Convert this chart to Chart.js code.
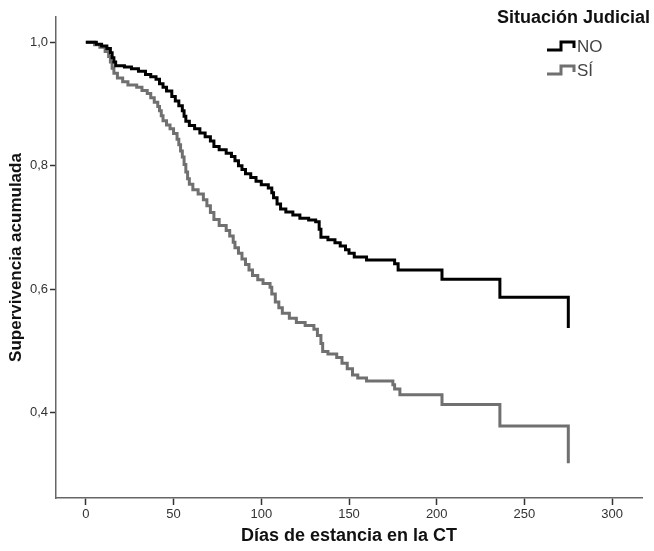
<!DOCTYPE html>
<html>
<head>
<meta charset="utf-8">
<script src="https://cdn.jsdelivr.net/npm/chart.js@4/dist/chart.umd.min.js"></script>
<style>
  body { margin: 0; background: #fff; }
  #wrap { width: 654px; height: 551px; }
</style>
</head>
<body>
<div id="wrap"><canvas id="chart1" width="654" height="551"></canvas></div>
<script>
// tick labels
const xTicks = [0, 50, 100, 150, 200, 250, 300];
const yTicks = [0.4, 0.6, 0.8, 1.0];

// Situación judicial = NO
const noDays = [0, 6, 9, 12, 14, 15, 16, 17, 22, 26, 30, 34, 37, 40, 42, 44, 46, 49, 51, 53, 55, 56, 57, 59,
    62, 65, 68, 71, 73, 76, 80, 83, 85, 87, 89, 91, 94, 97, 100, 104, 106, 107, 109, 111, 114, 118, 122,
    127, 131, 133, 134, 138, 142, 145, 148, 150, 153, 160, 176, 178, 203, 236, 275];
const noSurv = [1.0, 0.997, 0.994, 0.99, 0.983, 0.975, 0.968, 0.962, 0.96, 0.957, 0.953, 0.948, 0.944, 0.94,
    0.933, 0.927, 0.921, 0.912, 0.905, 0.897, 0.889, 0.88, 0.872, 0.865, 0.86, 0.853, 0.847, 0.84, 0.831,
    0.826, 0.82, 0.815, 0.808, 0.8, 0.794, 0.787, 0.781, 0.775, 0.769, 0.764, 0.756, 0.748, 0.738, 0.73,
    0.725, 0.72, 0.715, 0.712, 0.709, 0.697, 0.684, 0.68, 0.675, 0.67, 0.664, 0.658, 0.652, 0.647, 0.641,
    0.631, 0.616, 0.587, 0.537];

// Situación judicial = SÍ
const siDays = [0, 5, 8, 11, 13, 14, 15, 16, 18, 21, 24, 29, 32, 35, 37, 39, 41, 42, 43, 44, 46, 48, 50, 52,
    53, 54, 55, 56, 57, 58, 59, 61, 64, 67, 69, 71, 73, 76, 80, 82, 84, 85, 87, 89, 91, 93, 95, 98, 101,
    105, 106, 108, 110, 112, 116, 120, 125, 130, 132, 134, 135, 138, 143, 146, 149, 152, 155, 160, 175,
    176, 179, 203, 236, 275];
const siSurv = [1.0, 0.996, 0.992, 0.985, 0.977, 0.968, 0.958, 0.95, 0.942, 0.936, 0.931, 0.927, 0.922, 0.917,
    0.91, 0.903, 0.896, 0.889, 0.881, 0.873, 0.866, 0.86, 0.852, 0.843, 0.834, 0.824, 0.814, 0.802, 0.79,
    0.779, 0.77, 0.761, 0.754, 0.745, 0.735, 0.724, 0.713, 0.703, 0.695, 0.686, 0.676, 0.667, 0.658, 0.649,
    0.64, 0.631, 0.622, 0.615, 0.609, 0.603, 0.592, 0.579, 0.57, 0.561, 0.553, 0.546, 0.541, 0.535, 0.525,
    0.512, 0.499, 0.495, 0.489, 0.48, 0.471, 0.461, 0.456, 0.451, 0.445, 0.438, 0.429, 0.413, 0.378, 0.318];

const groups = ['NO', 'SÍ'];
const groupColors = ['#000000', '#707070'];

const FONT = "'Liberation Sans', Arial, sans-serif";

function toPoints(days, surv) {
    return days.map((d, i) => ({ x: d, y: surv[i] }));
}

// leyenda con el icono escalonado, como en SPSS
const kmLegend = {
    id: 'kmLegend',
    afterDraw(chart) {
        const c = chart.ctx;
        c.save();
        c.fillStyle = '#111';
        c.font = 'bold 18px ' + FONT;
        c.textAlign = 'left';
        c.textBaseline = 'middle';
        c.fillText('Situación Judicial', 497, 18);

        groups.forEach((name, i) => {
            const y = 46 + i * 24;
            c.strokeStyle = groupColors[i];
            c.lineWidth = 3;
            c.lineJoin = 'miter';
            c.beginPath();
            c.moveTo(547, y + 4);
            c.lineTo(561, y + 4);
            c.lineTo(561, y - 4);
            c.lineTo(574, y - 4);
            c.lineTo(574, y + 2);
            c.stroke();
            c.fillStyle = '#444';
            c.font = '17px ' + FONT;
            c.fillText(name, 577, y + 1);
        });
        c.restore();
    }
};

const ctx1 = document.getElementById('chart1').getContext('2d');
const myChart1 = new Chart(ctx1, {
    type: 'line',
    data: {
        datasets: [{
            label: groups[0],
            data: toPoints(noDays, noSurv),
            borderColor: groupColors[0],
            borderWidth: 3,
            stepped: 'before',
            pointRadius: 0,
            fill: false
        }, {
            label: groups[1],
            data: toPoints(siDays, siSurv),
            borderColor: groupColors[1],
            borderWidth: 3,
            stepped: 'before',
            pointRadius: 0,
            fill: false
        }]
    },
    options: {
        responsive: false,
        animation: false,
        layout: { padding: { top: 17, right: 12, left: 0, bottom: 0 } },
        plugins: {
            legend: { display: false },
            tooltip: { enabled: false }
        },
        scales: {
            x: {
                type: 'linear',
                min: -17,
                max: 317,
                afterBuildTicks: scale => { scale.ticks = xTicks.map(v => ({ value: v })); },
                afterFit: scale => { scale.height = 551 - 498; },
                ticks: {
                    color: '#333',
                    font: { family: FONT, size: 13 },
                    padding: 2,
                    maxRotation: 0
                },
                grid: {
                    drawOnChartArea: false,
                    drawTicks: true,
                    tickLength: 7,
                    tickWidth: 1.5,
                    tickColor: '#333'
                },
                border: { display: true, color: '#666', width: 1.5 },
                title: {
                    display: true,
                    text: 'Días de estancia en la CT',
                    color: '#111',
                    font: { family: FONT, size: 18, weight: 'bold' },
                    padding: { top: 4, bottom: 4 }
                }
            },
            y: {
                min: 0.2615,
                max: 1.041,
                afterBuildTicks: scale => { scale.ticks = yTicks.map(v => ({ value: v })); },
                afterFit: scale => { scale.width = 56; },
                ticks: {
                    color: '#333',
                    font: { family: FONT, size: 13 },
                    padding: 2,
                    callback: v => v.toFixed(1).replace('.', ',')
                },
                grid: {
                    drawOnChartArea: false,
                    drawTicks: true,
                    tickLength: 6,
                    tickWidth: 1.5,
                    tickColor: '#333'
                },
                border: { display: true, color: '#666', width: 1.5 },
                title: {
                    display: true,
                    text: 'Supervivencia acumulada',
                    color: '#111',
                    font: { family: FONT, size: 17, weight: 'bold' },
                    padding: { top: 6, bottom: 4 }
                }
            }
        }
    },
    plugins: [kmLegend]
});
</script>
</body>
</html>
